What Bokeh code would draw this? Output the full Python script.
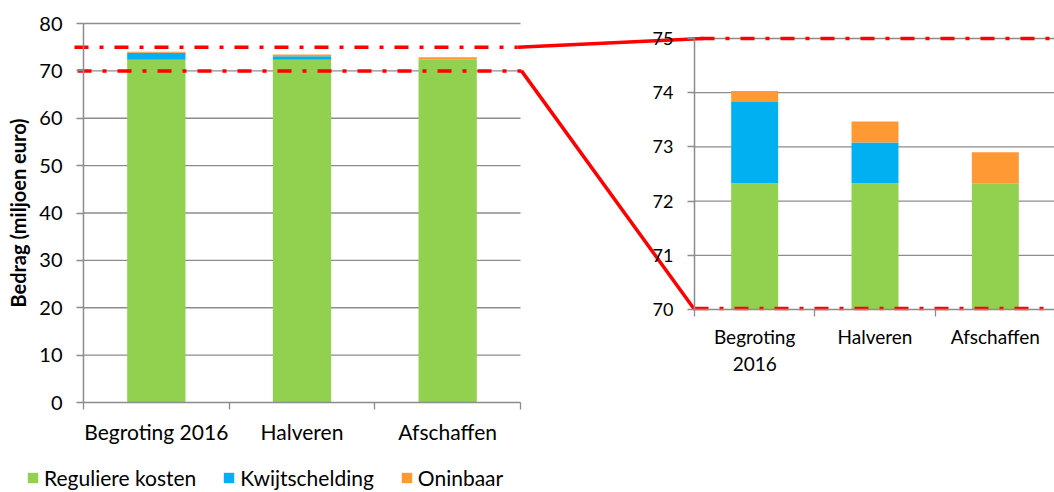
from bokeh.plotting import figure
from bokeh.models import (Range1d, FixedTicker, LinearAxis, Legend, LegendItem,
                          ColumnDataSource)
from bokeh.embed import file_html
from bokeh.resources import INLINE

# ---------------- data ----------------
categories = ["Begroting 2016", "Halveren", "Afschaffen"]
categories_zoom = ["Begroting\n2016", "Halveren", "Afschaffen"]
series = ["Reguliere kosten", "Kwijtschelding", "Oninbaar"]
reguliere = [72.33, 72.33, 72.33]
kwijtschelding = [1.50, 0.75, 0.00]
oninbaar = [0.20, 0.39, 0.57]
left_ticks = [0, 10, 20, 30, 40, 50, 60, 70, 80]
zoom_ticks = [70, 71, 72, 73, 74, 75]
zoom_lo, zoom_hi = 70, 75

# ---------------- style / layout (page pixels) ----------------
colors = ["#92D050", "#00B0F0", "#FF9933"]
GRID = "#8c8c8c"
RED = "#FF0000"
FONT = "Lato"
DASHDOT = "14 11 4 11"
RED_W = 3.5

W, H, PAGE = 1054, 492, 0
FRAME = dict(left=PAGE, right=PAGE + W, top=PAGE, bottom=PAGE + H)
LEFT = dict(x0=83, x1=520, y0=402, y1=23)     # left chart: x 0..3, y 0..80
ZOOM = dict(x0=694, x1=1055, y0=309, y1=38)   # zoom chart: x 0..3, y 70..75
ncat = len(categories)


def lin(v0, v1, p0, p1):
    return lambda q: v0 + (q - p0) * (v1 - v0) / (p1 - p0)


def ranges(box, xv, yv):
    fx = lin(xv[0], xv[1], box["x0"], box["x1"])
    fy = lin(yv[0], yv[1], box["y0"], box["y1"])
    return (Range1d(fx(FRAME["left"]), fx(FRAME["right"])),
            Range1d(fy(FRAME["bottom"]), fy(FRAME["top"])))


def to_px(box, yv):
    return lin(box["y0"], box["y1"], yv[0], yv[1])


lx_rng, ly_rng = ranges(LEFT, (0, ncat), (left_ticks[0], left_ticks[-1]))
zx_rng, zy_rng = ranges(ZOOM, (0, ncat), (zoom_lo, zoom_hi))
ly = to_px(LEFT, (left_ticks[0], left_ticks[-1]))
zy = to_px(ZOOM, (zoom_lo, zoom_hi))

p = figure(width=W, height=H, x_range=lx_rng, y_range=ly_rng,
           x_axis_location=None, y_axis_location=None,
           output_backend="svg", toolbar_location=None, min_border=0)
p.extra_x_ranges = {"zoom": zx_rng, "page": Range1d(FRAME["left"], FRAME["right"])}
p.extra_y_ranges = {"zoom": zy_rng, "page": Range1d(FRAME["bottom"], FRAME["top"])}
p.outline_line_color = None
p.grid.visible = False

xs = [i + 0.5 for i in range(ncat)]
values = [reguliere, kwijtschelding, oninbaar]

# ---------------- gridlines ----------------
p.segment(x0=0, x1=ncat, y0=left_ticks[1:], y1=left_ticks[1:], line_color=GRID, line_width=1.3)
p.segment(x0=0, x1=ncat, y0=zoom_ticks[1:], y1=zoom_ticks[1:], line_color=GRID, line_width=1.3,
          x_range_name="zoom", y_range_name="zoom")

# ---------------- left chart bars ----------------
src = ColumnDataSource(dict(x=xs, reg=reguliere, kw=kwijtschelding, on=oninbaar))
rs = p.vbar_stack(["reg", "kw", "on"], x="x", width=0.4, color=colors, source=src, line_width=0)

# ---------------- zoom chart bars (stacked, cut at the axis minimum) ----------------
cum = [0.0] * ncat
for vals, col in zip(values, colors):
    bottoms = [max(c, zoom_lo) for c in cum]
    tops = [c + v for c, v in zip(cum, vals)]
    p.vbar(x=xs, bottom=bottoms, top=tops, width=0.39, color=col, line_width=0,
           x_range_name="zoom", y_range_name="zoom")
    cum = tops


def style_axis(a, fs):
    a.axis_line_color = GRID
    a.axis_line_width = 1.5
    a.major_label_text_font = FONT
    a.major_label_text_font_size = fs
    a.major_label_text_color = "#000000"


def style_y(a, ticks, fs):
    a.ticker = FixedTicker(ticks=ticks)
    style_axis(a, fs)
    a.major_tick_line_color = GRID
    a.major_tick_line_width = 1.3
    a.major_tick_out = 7
    a.major_tick_in = 0
    a.minor_tick_line_color = None
    a.major_label_standoff = 14


def style_x(a, labels, fs):
    a.ticker = FixedTicker(ticks=xs, minor_ticks=list(range(ncat + 1)))
    a.major_label_overrides = {x: lab for x, lab in zip(xs, labels)}
    style_axis(a, fs)
    a.major_tick_line_color = None
    a.minor_tick_line_color = GRID
    a.minor_tick_line_width = 1.3
    a.minor_tick_out = 7
    a.minor_tick_in = 0


# left chart axes
ya = LinearAxis(fixed_location=0, bounds=(left_ticks[0], left_ticks[-1]))
style_y(ya, left_ticks, "20px")
ya.axis_label = "Bedrag (miljoen euro)"
ya.axis_label_text_font = FONT
ya.axis_label_text_font_style = "bold"
ya.axis_label_text_font_size = "20px"
ya.axis_label_text_color = "#000000"
ya.axis_label_standoff = 6
p.add_layout(ya, "left")
xa = LinearAxis(fixed_location=left_ticks[0], bounds=(0, ncat))
style_x(xa, categories, "21px")
xa.major_label_standoff = 9
p.add_layout(xa, "below")

# zoom chart axes
zya = LinearAxis(x_range_name="zoom", y_range_name="zoom", fixed_location=0,
                 bounds=(zoom_lo, zoom_hi))
style_y(zya, zoom_ticks, "18px")
p.add_layout(zya, "left")
zxa = LinearAxis(x_range_name="zoom", y_range_name="zoom", fixed_location=zoom_lo,
                 bounds=(0, ncat))
style_x(zxa, categories_zoom, "19px")
zxa.major_label_standoff = 8
p.add_layout(zxa, "below")

# ---------------- zoom indicator lines (page pixels, from the two value scales) ----------------
p.segment(x0=[74, 77, ZOOM["x0"] + 6, ZOOM["x0"]],
          y0=[ly(zoom_hi), ly(zoom_lo), zy(zoom_hi), zy(zoom_lo) - 1],
          x1=[517, 521, FRAME["right"], FRAME["right"]],
          y1=[ly(zoom_hi), ly(zoom_lo), zy(zoom_hi), zy(zoom_lo) - 1],
          line_color=RED, line_width=RED_W, line_dash=DASHDOT,
          x_range_name="page", y_range_name="page")
p.segment(x0=[517, 521], y0=[ly(zoom_hi), ly(zoom_lo)],
          x1=[ZOOM["x0"] + 9, ZOOM["x0"]], y1=[zy(zoom_hi), zy(zoom_lo)],
          line_color=RED, line_width=RED_W,
          x_range_name="page", y_range_name="page")

# ---------------- legend ----------------
legend = Legend(items=[LegendItem(label=s, renderers=[r]) for s, r in zip(series, rs)],
                orientation="horizontal", location=(26 - FRAME["left"], 2),
                padding=0, margin=0, spacing=26, glyph_width=13, glyph_height=13,
                label_standoff=5, label_text_font=FONT, label_text_font_size="21px",
                label_text_color="#000000", border_line_color=None, background_fill_alpha=0)
p.add_layout(legend)

open("out.html", "w").write(file_html(p, INLINE))
